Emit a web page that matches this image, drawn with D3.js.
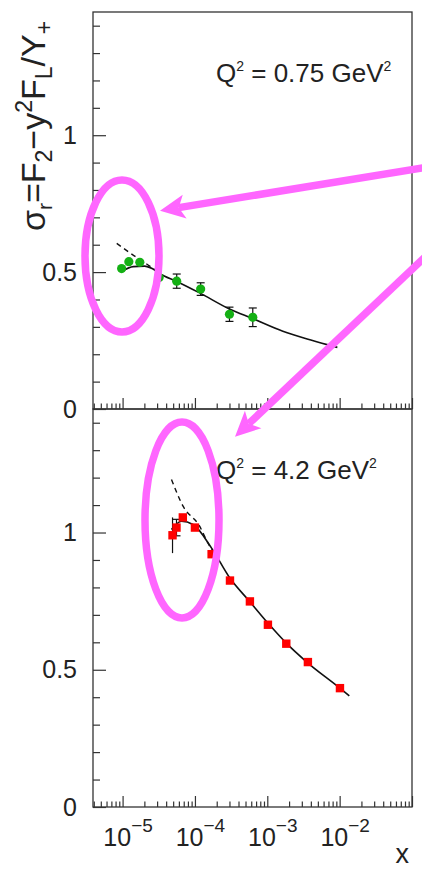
<!DOCTYPE html>
<html>
<head>
<meta charset="utf-8">
<script src="https://cdn.jsdelivr.net/npm/d3@7"></script>
<style>
  body { margin: 0; background: #fff; }
  svg text { font-family: "Liberation Sans", Arial, sans-serif; fill: #222; }
</style>
</head>
<body>
<figure id="sigma-r" style="margin:0"></figure>
<script>
// Q2 = 0.75 GeV2 (top panel)
const xLowQ = [9.7e-6, 1.22e-5, 1.73e-5, 3.2e-5, 5.6e-5, 1.2e-4, 3.0e-4, 6.3e-4];
const sigLowQ = [0.513, 0.538, 0.536, 0.48, 0.467, 0.438, 0.346, 0.335];
const errLowQ = [0.006, 0.006, 0.006, 0.008, 0.026, 0.023, 0.026, 0.034];
const fitXLowQ = [1.0e-5, 1.4e-5, 2.0e-5, 2.6e-5, 3.27e-5, 5.6e-5, 1.16e-4, 3.0e-4, 6.3e-4, 1.64e-3, 4.0e-3, 9.3e-3];
const fitLowQ = [0.505, 0.52, 0.522, 0.512, 0.494, 0.466, 0.424, 0.365, 0.33, 0.284, 0.252, 0.225];
const dashXLowQ = [8.3e-6, 1.4e-5, 2.25e-5, 3.27e-5];
const dashLowQ = [0.605, 0.562, 0.526, 0.495];

// Q2 = 4.2 GeV2 (bottom panel)
const xHighQ = [4.9e-5, 5.56e-5, 6.8e-5, 1.0e-4, 1.7e-4, 3.05e-4, 5.75e-4, 1.02e-3, 1.83e-3, 3.64e-3, 1.01e-2];
const sigHighQ = [0.99, 1.018, 1.055, 1.018, 0.921, 0.825, 0.749, 0.664, 0.595, 0.528, 0.433];
const errHighQ = [0.065, 0.03, 0.012, 0.01, 0.01, 0.01, 0.01, 0.01, 0.01, 0.01, 0.01];
const fitXHighQ = [4.74e-5, 6.52e-5, 9.42e-5, 1.69e-4, 3.02e-4, 5.7e-4, 1.02e-3, 1.83e-3, 3.45e-3, 1.01e-2, 1.36e-2];
const fitHighQ = [1.011, 1.041, 1.029, 0.944, 0.835, 0.749, 0.670, 0.597, 0.530, 0.433, 0.405];
const dashXHighQ = [4.74e-5, 6.85e-5, 1.16e-4, 1.51e-4, 2.0e-4];
const dashHighQ = [1.193, 1.096, 1.023, 0.962, 0.912];

const xDecades = [1e-5, 1e-4, 1e-3, 1e-2, 1e-1];
const xLabels = ["−5", "−4", "−3", "−2"];
const yMajor = [0, 0.5, 1];

const width = 422, height = 871;
const left = 93, right = 412;
const pink = "#ff66ff";

const svg = d3.select("figure#sigma-r")
  .append("svg")
  .attr("width", width)
  .attr("height", height);

const x = d3.scaleLog().domain([3.9e-6, 0.1]).range([left, right]);
const yTop = d3.scaleLinear().domain([0, 1.45]).range([409, 12]);
const yBot = d3.scaleLinear().domain([0, 1.45]).range([807, 409]);

// minor x ticks 2..9 in each decade
const xMinor = [];
for (let e = -6; e <= -2; e++) {
  for (let k = 2; k <= 9; k++) {
    const v = k * Math.pow(10, e);
    if (v >= 3.9e-6 && v <= 0.1) xMinor.push(v);
  }
}
const yMinor = d3.range(0, 15).map(i => +(i * 0.1).toFixed(1)).filter(v => !yMajor.includes(v));

function drawPanel(y, xs, ys, errs, fitX, fit, dashX, dash, kind, showXLabels) {
  const g = svg.append("g");

  g.append("rect")
    .attr("x", left).attr("y", y.range()[1])
    .attr("width", right - left).attr("height", y.range()[0] - y.range()[1])
    .attr("fill", "none").attr("stroke", "#333").attr("stroke-width", 1.3);

  // y ticks (inward), labels on the left
  g.append("g")
    .attr("transform", "translate(" + left + ",0)")
    .call(d3.axisLeft(y).tickValues(yMinor).tickSize(-7).tickFormat(""))
    .call(a => a.select(".domain").remove());
  const ya = g.append("g")
    .attr("transform", "translate(" + left + ",0)")
    .call(d3.axisLeft(y).tickValues(yMajor).tickSize(-13).tickPadding(16).tickFormat(d => String(d)));
  ya.select(".domain").remove();
  ya.selectAll(".tick text").attr("font-size", 25).attr("fill", "#222")
    .attr("font-family", "Liberation Sans, Arial, sans-serif");

  // x ticks (inward)
  const bottom = y.range()[0];
  g.append("g")
    .attr("transform", "translate(0," + bottom + ")")
    .call(d3.axisBottom(x).tickValues(xMinor).tickSize(-5.5).tickFormat(""))
    .call(a => a.select(".domain").remove());
  const xa = g.append("g")
    .attr("transform", "translate(0," + bottom + ")")
    .call(d3.axisBottom(x).tickValues(xDecades).tickSize(-11).tickFormat(""));
  xa.select(".domain").remove();
  g.selectAll(".tick line").attr("stroke", "#333").attr("stroke-width", 1.2);

  if (showXLabels) {
    xa.selectAll(".tick text").each(function(d, i) {
      if (i >= xLabels.length) return;
      const t = d3.select(this)
        .attr("x", 5).attr("y", 39).attr("dy", null)
        .attr("font-size", 25).attr("fill", "#222")
        .attr("font-family", "Liberation Sans, Arial, sans-serif");
      t.append("tspan").text("10");
      t.append("tspan").attr("dy", -14).attr("font-size", 19).text(xLabels[i]);
    });
  }

  // curves
  const line = d3.line().x(d => x(d[0])).y(d => y(d[1])).curve(d3.curveMonotoneX);
  g.append("path")
    .datum(dashX.map((v, i) => [v, dash[i]]))
    .attr("d", line)
    .attr("fill", "none").attr("stroke", "#111").attr("stroke-width", 1.4)
    .attr("stroke-dasharray", "5,4");
  g.append("path")
    .datum(fitX.map((v, i) => [v, fit[i]]))
    .attr("d", line)
    .attr("fill", "none").attr("stroke", "#111").attr("stroke-width", 1.6);

  // error bars
  const pts = xs.map((v, i) => ({ x: v, y: ys[i], e: errs[i] }));
  const eb = g.append("g").attr("stroke", "#111").attr("stroke-width", 1.2);
  eb.selectAll("line.bar").data(pts).join("line")
    .attr("x1", d => x(d.x)).attr("x2", d => x(d.x))
    .attr("y1", d => y(d.y + d.e)).attr("y2", d => y(d.y - d.e));
  eb.selectAll("line.cap1").data(pts.filter(d => d.e > 0.015 && d.e < 0.05)).join("line")
    .attr("x1", d => x(d.x) - 4).attr("x2", d => x(d.x) + 4)
    .attr("y1", d => y(d.y + d.e)).attr("y2", d => y(d.y + d.e));
  eb.selectAll("line.cap2").data(pts.filter(d => d.e > 0.015 && d.e < 0.05)).join("line")
    .attr("x1", d => x(d.x) - 4).attr("x2", d => x(d.x) + 4)
    .attr("y1", d => y(d.y - d.e)).attr("y2", d => y(d.y - d.e));

  // markers
  if (kind === "circle") {
    g.append("g").selectAll("circle").data(pts).join("circle")
      .attr("cx", d => x(d.x)).attr("cy", d => y(d.y)).attr("r", 4.6)
      .attr("fill", "#14b014");
  } else {
    g.append("g").selectAll("rect").data(pts).join("rect")
      .attr("x", d => x(d.x) - 4.2).attr("y", d => y(d.y) - 4.2)
      .attr("width", 8.4).attr("height", 8.4)
      .attr("fill", "#ff0000");
  }
}

drawPanel(yTop, xLowQ, sigLowQ, errLowQ, fitXLowQ, fitLowQ, dashXLowQ, dashLowQ, "circle", false);
drawPanel(yBot, xHighQ, sigHighQ, errHighQ, fitXHighQ, fitHighQ, dashXHighQ, dashHighQ, "square", true);

// Q2 labels
function qLabel(xp, yp, val) {
  const t = svg.append("text").attr("x", xp).attr("y", yp).attr("font-size", 26);
  t.append("tspan").text("Q");
  t.append("tspan").attr("dy", -11).attr("font-size", 14).text("2");
  t.append("tspan").attr("dy", 11).text(" = " + val + " GeV");
  t.append("tspan").attr("dy", -11).attr("font-size", 14).text("2");
}
qLabel(216, 82, "0.75");
qLabel(216, 479, "4.2");

// axis titles
svg.append("text").attr("x", 409).attr("y", 863).attr("text-anchor", "end")
  .attr("font-size", 27).text("x");

const yt = svg.append("text")
  .attr("transform", "translate(45,126) rotate(-90)")
  .attr("text-anchor", "middle").attr("font-size", 34);
yt.append("tspan").text("σ");
yt.append("tspan").attr("dy", 7).attr("font-size", 21).text("r");
yt.append("tspan").attr("dy", -7).text("=F");
yt.append("tspan").attr("dy", 7).attr("font-size", 23).text("2");
yt.append("tspan").attr("dy", -7).text("−y");
yt.append("tspan").attr("dy", -13).attr("font-size", 23).text("2");
yt.append("tspan").attr("dy", 13).text("F");
yt.append("tspan").attr("dy", 7).attr("font-size", 23).text("L");
yt.append("tspan").attr("dy", -7).text("/Y");
yt.append("tspan").attr("dy", 7).attr("font-size", 23).text("+");

// annotation ellipses and arrows
svg.append("ellipse").attr("cx", 122).attr("cy", 256).attr("rx", 37).attr("ry", 76)
  .attr("fill", "none").attr("stroke", pink).attr("stroke-width", 7.5);
svg.append("ellipse").attr("cx", 182).attr("cy", 520).attr("rx", 37).attr("ry", 98)
  .attr("fill", "none").attr("stroke", pink).attr("stroke-width", 7.5);

function arrow(x1, y1, x2, y2) {
  const len = Math.hypot(x2 - x1, y2 - y1);
  const ux = (x2 - x1) / len, uy = (y2 - y1) / len;
  const nx = -uy, ny = ux;
  const L = 25, W = 12, N = 6;
  const bx = x2 - ux * L, by = y2 - uy * L;
  svg.append("line")
    .attr("x1", x1).attr("y1", y1)
    .attr("x2", x2 - ux * (L - N)).attr("y2", y2 - uy * (L - N))
    .attr("stroke", pink).attr("stroke-width", 7.5);
  svg.append("polygon")
    .attr("points", [
      [x2, y2],
      [bx + nx * W, by + ny * W],
      [x2 - ux * (L - N), y2 - uy * (L - N)],
      [bx - nx * W, by - ny * W]
    ].map(p => p.join(",")).join(" "))
    .attr("fill", pink);
}
arrow(425, 167.5, 160, 210.7);
arrow(425, 257, 235, 436.7);
</script>
</body>
</html>
